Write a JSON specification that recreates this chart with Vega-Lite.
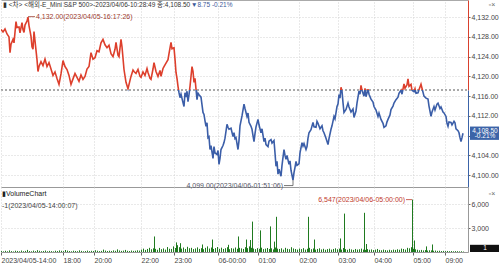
{
"$schema": "https://vega.github.io/schema/vega-lite/v6.json",
"padding": 0,
"background": "white",
"spacing": 0,
"bounds": "flush",
"config": {
  "view": {"stroke": null},
  "font": "Liberation Sans, Noto Sans CJK KR",
  "axis": {"labelFont": "Liberation Sans", "labelFontSize": 7, "labelColor": "#444444", "gridColor": "#d2d2d2", "gridDash": [1, 2], "tickColor": "#666666", "tickSize": 2, "labelPadding": 1, "title": null}
},
"datasets": {
  "price": [
{"x":0,"p":4129.5},{"x":2,"p":4129.0},{"x":4,"p":4129.6},{"x":6,"p":4128.6},{"x":8,"p":4128.0},{"x":9,"p":4124.8},{"x":10,"p":4126.5},{"x":12,"p":4127.5},{"x":13,"p":4126.8},{"x":15,"p":4131.1},{"x":16,"p":4129.9},{"x":18,"p":4130.0},{"x":19,"p":4128.8},{"x":21,"p":4130.9},{"x":22,"p":4129.5},{"x":23,"p":4128.9},{"x":24,"p":4130.4},{"x":26,"p":4131.2},{"x":27,"p":4132.0},{"x":28,"p":4130.3},{"x":30,"p":4128.1},{"x":31,"p":4126.0},{"x":32,"p":4125.5},{"x":33,"p":4129.1},{"x":34,"p":4127.2},{"x":36,"p":4123.4},{"x":37,"p":4121.0},{"x":38,"p":4122.0},{"x":40,"p":4123.0},{"x":42,"p":4122.2},{"x":44,"p":4123.5},{"x":46,"p":4122.0},{"x":48,"p":4122.8},{"x":50,"p":4121.5},{"x":52,"p":4120.2},{"x":54,"p":4120.9},{"x":56,"p":4119.6},{"x":58,"p":4118.4},{"x":60,"p":4120.5},{"x":62,"p":4123.2},{"x":64,"p":4122.0},{"x":66,"p":4121.4},{"x":68,"p":4120.2},{"x":70,"p":4118.4},{"x":72,"p":4119.5},{"x":74,"p":4120.6},{"x":76,"p":4119.8},{"x":78,"p":4119.0},{"x":80,"p":4120.3},{"x":82,"p":4119.4},{"x":84,"p":4120.0},{"x":86,"p":4121.5},{"x":88,"p":4122.0},{"x":90,"p":4124.8},{"x":92,"p":4123.5},{"x":94,"p":4123.8},{"x":96,"p":4125.2},{"x":98,"p":4125.0},{"x":100,"p":4126.8},{"x":102,"p":4127.5},{"x":104,"p":4126.4},{"x":106,"p":4125.8},{"x":108,"p":4126.3},{"x":110,"p":4124.6},{"x":112,"p":4124.0},{"x":114,"p":4125.5},{"x":115,"p":4126.9},{"x":117,"p":4124.3},{"x":118,"p":4124.0},{"x":120,"p":4127.5},{"x":121,"p":4126.0},{"x":123,"p":4121.4},{"x":125,"p":4118.8},{"x":127,"p":4117.5},{"x":129,"p":4119.2},{"x":130,"p":4120.0},{"x":132,"p":4121.3},{"x":133,"p":4121.0},{"x":135,"p":4120.6},{"x":137,"p":4121.4},{"x":139,"p":4120.0},{"x":140,"p":4119.8},{"x":142,"p":4120.9},{"x":144,"p":4120.2},{"x":146,"p":4121.6},{"x":147,"p":4120.8},{"x":149,"p":4119.6},{"x":150,"p":4119.4},{"x":152,"p":4121.5},{"x":153,"p":4122.8},{"x":155,"p":4121.0},{"x":157,"p":4120.0},{"x":159,"p":4121.2},{"x":160,"p":4120.0},{"x":162,"p":4121.6},{"x":163,"p":4122.0},{"x":165,"p":4122.7},{"x":167,"p":4123.4},{"x":168,"p":4124.6},{"x":170,"p":4126.9},{"x":171,"p":4125.6},{"x":173,"p":4125.8},{"x":174,"p":4123.5},{"x":175,"p":4120.8},{"x":176,"p":4119.6},{"x":177,"p":4118.0},{"x":178,"p":4116.7},{"x":179,"p":4115.7},{"x":180,"p":4116.4},{"x":182,"p":4114.7},{"x":183,"p":4113.9},{"x":184,"p":4116.7},{"x":185,"p":4115.8},{"x":186,"p":4117.0},{"x":187,"p":4114.9},{"x":188,"p":4116.3},{"x":189,"p":4118.0},{"x":191,"p":4122.0},{"x":192,"p":4121.0},{"x":193,"p":4118.8},{"x":194,"p":4119.6},{"x":196,"p":4115.3},{"x":197,"p":4116.6},{"x":198,"p":4116.3},{"x":200,"p":4115.8},{"x":202,"p":4112.7},{"x":203,"p":4112.3},{"x":204,"p":4111.0},{"x":205,"p":4109.9},{"x":206,"p":4110.6},{"x":207,"p":4107.6},{"x":208,"p":4107.8},{"x":209,"p":4105.2},{"x":210,"p":4106.0},{"x":212,"p":4103.4},{"x":213,"p":4105.8},{"x":214,"p":4104.5},{"x":216,"p":4104.2},{"x":217,"p":4105.0},{"x":218,"p":4102.2},{"x":219,"p":4103.4},{"x":220,"p":4105.2},{"x":222,"p":4106.0},{"x":223,"p":4106.6},{"x":224,"p":4107.5},{"x":226,"p":4110.3},{"x":227,"p":4109.7},{"x":228,"p":4109.3},{"x":230,"p":4109.5},{"x":232,"p":4107.8},{"x":233,"p":4108.6},{"x":234,"p":4107.4},{"x":235,"p":4107.6},{"x":236,"p":4106.4},{"x":237,"p":4105.2},{"x":238,"p":4107.0},{"x":239,"p":4110.0},{"x":241,"p":4112.0},{"x":243,"p":4114.4},{"x":244,"p":4113.5},{"x":246,"p":4111.9},{"x":247,"p":4112.6},{"x":248,"p":4110.7},{"x":250,"p":4109.9},{"x":251,"p":4109.3},{"x":252,"p":4108.0},{"x":253,"p":4106.8},{"x":254,"p":4108.4},{"x":255,"p":4109.8},{"x":257,"p":4111.3},{"x":258,"p":4110.2},{"x":260,"p":4108.6},{"x":261,"p":4109.4},{"x":263,"p":4106.8},{"x":264,"p":4107.5},{"x":265,"p":4106.2},{"x":267,"p":4105.8},{"x":268,"p":4106.9},{"x":270,"p":4107.2},{"x":271,"p":4106.5},{"x":273,"p":4107.0},{"x":274,"p":4104.5},{"x":275,"p":4101.8},{"x":276,"p":4102.8},{"x":277,"p":4100.2},{"x":278,"p":4101.2},{"x":280,"p":4099.8},{"x":281,"p":4102.0},{"x":283,"p":4105.2},{"x":284,"p":4104.0},{"x":285,"p":4103.2},{"x":286,"p":4104.0},{"x":288,"p":4102.2},{"x":289,"p":4102.9},{"x":290,"p":4101.0},{"x":292,"p":4099.0},{"x":293,"p":4100.5},{"x":294,"p":4101.6},{"x":295,"p":4102.8},{"x":296,"p":4102.0},{"x":298,"p":4102.3},{"x":299,"p":4104.5},{"x":301,"p":4106.6},{"x":302,"p":4105.9},{"x":303,"p":4106.4},{"x":305,"p":4105.2},{"x":306,"p":4105.8},{"x":307,"p":4107.5},{"x":308,"p":4108.6},{"x":310,"p":4109.2},{"x":312,"p":4110.7},{"x":313,"p":4109.8},{"x":315,"p":4109.7},{"x":316,"p":4110.9},{"x":317,"p":4110.5},{"x":319,"p":4109.4},{"x":321,"p":4110.0},{"x":322,"p":4109.0},{"x":323,"p":4108.6},{"x":325,"p":4107.5},{"x":327,"p":4106.2},{"x":328,"p":4107.4},{"x":330,"p":4109.3},{"x":331,"p":4110.0},{"x":333,"p":4111.9},{"x":334,"p":4111.4},{"x":336,"p":4113.9},{"x":337,"p":4114.4},{"x":338,"p":4116.3},{"x":339,"p":4115.6},{"x":340,"p":4117.8},{"x":341,"p":4117.0},{"x":342,"p":4114.7},{"x":343,"p":4112.7},{"x":345,"p":4113.3},{"x":347,"p":4114.6},{"x":348,"p":4113.8},{"x":350,"p":4112.8},{"x":352,"p":4113.4},{"x":353,"p":4111.7},{"x":355,"p":4113.0},{"x":356,"p":4114.6},{"x":358,"p":4117.0},{"x":359,"p":4116.4},{"x":360,"p":4118.2},{"x":361,"p":4117.2},{"x":363,"p":4116.0},{"x":364,"p":4117.6},{"x":365,"p":4115.9},{"x":367,"p":4117.4},{"x":368,"p":4116.4},{"x":370,"p":4115.4},{"x":372,"p":4114.8},{"x":373,"p":4113.9},{"x":375,"p":4113.2},{"x":377,"p":4111.9},{"x":378,"p":4112.6},{"x":380,"p":4111.3},{"x":382,"p":4110.5},{"x":383,"p":4109.7},{"x":385,"p":4110.0},{"x":386,"p":4110.8},{"x":387,"p":4111.3},{"x":389,"p":4112.2},{"x":390,"p":4113.3},{"x":392,"p":4114.0},{"x":393,"p":4114.6},{"x":395,"p":4115.3},{"x":397,"p":4115.8},{"x":398,"p":4116.6},{"x":400,"p":4117.2},{"x":401,"p":4116.4},{"x":403,"p":4118.5},{"x":404,"p":4117.6},{"x":406,"p":4118.3},{"x":407,"p":4119.5},{"x":408,"p":4118.0},{"x":410,"p":4118.4},{"x":411,"p":4117.2},{"x":413,"p":4116.9},{"x":414,"p":4117.5},{"x":415,"p":4116.6},{"x":417,"p":4116.7},{"x":418,"p":4117.3},{"x":420,"p":4118.4},{"x":421,"p":4117.6},{"x":423,"p":4116.0},{"x":425,"p":4115.6},{"x":427,"p":4115.4},{"x":428,"p":4114.0},{"x":430,"p":4111.9},{"x":431,"p":4112.8},{"x":433,"p":4113.9},{"x":434,"p":4113.2},{"x":436,"p":4114.4},{"x":437,"p":4114.6},{"x":439,"p":4113.5},{"x":440,"p":4113.8},{"x":442,"p":4112.8},{"x":443,"p":4112.6},{"x":445,"p":4111.9},{"x":446,"p":4110.5},{"x":447,"p":4109.9},{"x":448,"p":4110.8},{"x":450,"p":4110.7},{"x":451,"p":4110.2},{"x":453,"p":4110.9},{"x":454,"p":4110.6},{"x":455,"p":4109.4},{"x":457,"p":4109.0},{"x":458,"p":4108.6},{"x":459,"p":4107.6},{"x":460,"p":4106.8},{"x":461,"p":4107.6},{"x":462,"p":4108.5}
  ],
  "vol": [
{"x":0,"v":120},{"x":2,"v":80},{"x":4,"v":150},{"x":6,"v":90},{"x":8,"v":200},{"x":10,"v":110},{"x":12,"v":70},{"x":14,"v":160},{"x":16,"v":130},{"x":18,"v":90},{"x":20,"v":180},{"x":22,"v":100},{"x":24,"v":140},{"x":26,"v":260},{"x":28,"v":120},{"x":30,"v":90},{"x":32,"v":170},{"x":34,"v":110},{"x":36,"v":230},{"x":38,"v":150},{"x":40,"v":100},{"x":42,"v":130},{"x":44,"v":180},{"x":46,"v":90},{"x":48,"v":140},{"x":50,"v":110},{"x":52,"v":80},{"x":54,"v":160},{"x":56,"v":120},{"x":58,"v":200},{"x":60,"v":150},{"x":62,"v":110},{"x":64,"v":250},{"x":66,"v":170},{"x":68,"v":120},{"x":70,"v":90},{"x":72,"v":160},{"x":74,"v":130},{"x":76,"v":100},{"x":78,"v":210},{"x":80,"v":140},{"x":82,"v":90},{"x":84,"v":120},{"x":86,"v":170},{"x":88,"v":110},{"x":90,"v":150},{"x":92,"v":130},{"x":94,"v":220},{"x":96,"v":160},{"x":98,"v":110},{"x":100,"v":140},{"x":102,"v":300},{"x":104,"v":180},{"x":106,"v":120},{"x":108,"v":160},{"x":110,"v":130},{"x":112,"v":200},{"x":114,"v":150},{"x":116,"v":330},{"x":118,"v":190},{"x":120,"v":140},{"x":122,"v":170},{"x":124,"v":260},{"x":126,"v":150},{"x":128,"v":120},{"x":130,"v":180},{"x":132,"v":140},{"x":134,"v":160},{"x":136,"v":210},{"x":138,"v":170},
{"x":140,"v":300},{"x":142,"v":420},{"x":144,"v":260},{"x":146,"v":380},{"x":148,"v":520},{"x":150,"v":340},{"x":152,"v":460},{"x":154,"v":390},{"x":156,"v":280},{"x":158,"v":510},{"x":160,"v":350},{"x":162,"v":440},{"x":164,"v":300},{"x":166,"v":620},{"x":168,"v":410},{"x":170,"v":380},{"x":172,"v":700},{"x":174,"v":500},{"x":176,"v":850},{"x":178,"v":600},{"x":180,"v":420},{"x":182,"v":560},{"x":184,"v":380},{"x":186,"v":650},{"x":188,"v":470},{"x":190,"v":520},{"x":192,"v":360},{"x":194,"v":440},{"x":196,"v":580},{"x":198,"v":390},{"x":200,"v":480},{"x":202,"v":350},{"x":204,"v":520},{"x":206,"v":700},{"x":208,"v":430},{"x":210,"v":560},{"x":212,"v":380},{"x":214,"v":490},{"x":216,"v":620},{"x":218,"v":400},{"x":220,"v":540},{"x":222,"v":380},{"x":224,"v":470},{"x":226,"v":600},{"x":228,"v":350},{"x":230,"v":480},{"x":232,"v":420},{"x":234,"v":560},{"x":236,"v":400},{"x":238,"v":520},{"x":240,"v":450},{"x":242,"v":380},{"x":244,"v":600},{"x":246,"v":480},{"x":248,"v":700},{"x":250,"v":520},{"x":252,"v":430},{"x":254,"v":360},{"x":256,"v":480},{"x":258,"v":400},{"x":260,"v":540},{"x":262,"v":360},{"x":264,"v":420},{"x":266,"v":500},{"x":268,"v":380},{"x":270,"v":460},{"x":272,"v":330},{"x":274,"v":560},{"x":276,"v":420},{"x":278,"v":380},{"x":280,"v":460},{"x":282,"v":300},{"x":284,"v":520},{"x":286,"v":400},{"x":288,"v":350},{"x":290,"v":600},{"x":292,"v":440},{"x":294,"v":380},{"x":296,"v":300},{"x":298,"v":420},{"x":300,"v":360},{"x":302,"v":480},{"x":304,"v":300},{"x":306,"v":400},{"x":308,"v":520},{"x":310,"v":350},{"x":312,"v":440},{"x":314,"v":300},{"x":316,"v":380},{"x":318,"v":460},{"x":320,"v":320},{"x":322,"v":400},{"x":324,"v":280},{"x":326,"v":360},{"x":328,"v":420},{"x":330,"v":300},{"x":332,"v":380},{"x":334,"v":460},{"x":336,"v":340},{"x":338,"v":420},{"x":340,"v":300},{"x":342,"v":500},{"x":344,"v":360},{"x":346,"v":280},{"x":348,"v":400},{"x":350,"v":320},{"x":352,"v":260},{"x":354,"v":380},{"x":356,"v":300},{"x":358,"v":340},{"x":360,"v":420},{"x":362,"v":300},{"x":364,"v":260},{"x":366,"v":360},{"x":368,"v":280},{"x":370,"v":320},{"x":372,"v":240},{"x":374,"v":300},{"x":376,"v":380},{"x":378,"v":260},{"x":380,"v":220},{"x":382,"v":300},{"x":384,"v":240},{"x":386,"v":200},{"x":388,"v":280},{"x":390,"v":220},{"x":392,"v":300},{"x":394,"v":260},{"x":396,"v":340},{"x":398,"v":280},{"x":400,"v":420},{"x":402,"v":380},{"x":404,"v":300},{"x":406,"v":520},{"x":408,"v":460},{"x":410,"v":600},{"x":412,"v":400},{"x":414,"v":340},{"x":416,"v":280},{"x":418,"v":220},{"x":420,"v":260},{"x":422,"v":200},{"x":424,"v":240},{"x":426,"v":180},{"x":428,"v":220},{"x":430,"v":200},{"x":432,"v":160},{"x":434,"v":180},{"x":436,"v":140},{"x":438,"v":160},{"x":440,"v":120},{"x":442,"v":140},{"x":444,"v":110},{"x":446,"v":130},{"x":448,"v":100},{"x":450,"v":120},{"x":452,"v":90},{"x":454,"v":110},{"x":456,"v":100},{"x":458,"v":80},{"x":460,"v":90},{"x":462,"v":60},
{"x":153,"v":1940},{"x":175,"v":1200},{"x":179,"v":1100},{"x":201,"v":940},{"x":211,"v":1560},{"x":227,"v":900},{"x":237,"v":1940},{"x":245,"v":1560},{"x":249,"v":1500},{"x":251,"v":3800},{"x":259,"v":2700},{"x":269,"v":3200},{"x":273,"v":1300},{"x":275,"v":4400},{"x":307,"v":4400},{"x":313,"v":1560},{"x":339,"v":1690},{"x":343,"v":4800},{"x":363,"v":4900},{"x":365,"v":1000},{"x":411,"v":6547},{"x":413,"v":1440},{"x":425,"v":700},{"x":431,"v":940}
  ]
},
"vconcat": [
{
  "width": 467, "height": 90,
  "encoding": {
    "x": {"field": "x", "type": "quantitative", "scale": {"domain": [0, 467], "nice": false, "zero": false},
      "axis": {"orient": "top", "labels": false, "ticks": false, "domainColor": "#aaaaaa", "grid": true, "values": [0, 62, 93, 140, 173, 217, 257, 298, 337, 373, 412, 444]}},
    "y": {"field": "p", "type": "quantitative", "scale": {"domain": [4117.25, 4135.47], "nice": false, "zero": false},
      "axis": {"orient": "right", "values": [4120, 4124, 4128, 4132], "format": ",.2f", "domainColor": "#d9412e", "grid": true}}
  },
  "layer": [
    {"data": {"values": [{"x": 0, "x2": 467, "p": 4117.25}]}, "mark": {"type": "rule", "strokeDash": [2, 2], "color": "#555555", "strokeWidth": 1}, "encoding": {"x2": {"field": "x2"}}},
    {"data": {"name": "price"}, "mark": {"type": "line", "clip": true, "color": "#dd3f2c", "strokeWidth": 1.6}},
    {"data": {"values": [{"x": 27, "x2": 34, "p": 4132.1}]}, "mark": {"type": "rule", "color": "#9c3b2f", "strokeWidth": 0.8}, "encoding": {"x2": {"field": "x2"}}},
    {"data": {"values": [{"x": 35, "p": 4132.1, "t": "4,132.00(2023/04/05-16:17:26)"}]}, "mark": {"type": "text", "align": "left", "baseline": "middle", "fontSize": 7, "color": "#9c3b2f"}, "encoding": {"text": {"field": "t"}}},
    {"data": {"values": [{"x": 2, "p": 4134.4, "t": "▮ <차> <해외-E_Mini S&P 500>-2023/04/06-10:28:49 종:4,108.50"}]}, "mark": {"type": "text", "align": "left", "baseline": "middle", "fontSize": 6.5, "color": "#333333"}, "encoding": {"text": {"field": "t"}}},
    {"data": {"values": [{"x": 190, "p": 4134.4, "t": "▼8.75  -0.21%"}]}, "mark": {"type": "text", "align": "left", "baseline": "middle", "fontSize": 6.5, "color": "#3c5a9a"}, "encoding": {"text": {"field": "t"}}},
    {"data": {"values": [{"x": 491, "p": 4134.4, "t": "▫×"}]}, "mark": {"type": "text", "align": "center", "baseline": "middle", "fontSize": 7, "color": "#666666"}, "encoding": {"text": {"field": "t"}}}
  ]
},
{
  "width": 467, "height": 97,
  "encoding": {
    "x": {"field": "x", "type": "quantitative", "scale": {"domain": [0, 467], "nice": false, "zero": false},
      "axis": {"orient": "bottom", "labels": false, "ticks": false, "domainColor": "#999999", "grid": true, "values": [0, 62, 93, 140, 173, 217, 257, 298, 337, 373, 412, 444]}},
    "y": {"field": "p", "type": "quantitative", "scale": {"domain": [4097.61, 4117.25], "nice": false, "zero": false},
      "axis": {"orient": "right", "values": [4100, 4104, 4108, 4112, 4116], "labelExpr": "datum.value == 4108 ? '' : format(datum.value, ',.2f')", "domainColor": "#3c64a8", "grid": true}}
  },
  "layer": [
    {"data": {"name": "price"}, "mark": {"type": "line", "clip": true, "color": "#3b5ea8", "strokeWidth": 1.6}},
    {"data": {"values": [{"x": 283, "x2": 292, "p": 4097.9, "p2": 4097.9}, {"x": 292, "x2": 292, "p": 4097.9, "p2": 4099.0}]}, "mark": {"type": "rule", "color": "#555555", "strokeWidth": 0.8}, "encoding": {"x2": {"field": "x2"}, "y2": {"field": "p2"}}},
    {"data": {"values": [{"x": 282, "p": 4097.9, "t": "4,099.00(2023/04/06-01:51:06)"}]}, "mark": {"type": "text", "align": "right", "baseline": "middle", "fontSize": 7, "color": "#555566"}, "encoding": {"text": {"field": "t"}}},
    {"data": {"values": [{"x": 469, "x2": 498, "p": 4109.85, "p2": 4107.15}]}, "mark": {"type": "rect", "color": "#3c64a8"}, "encoding": {"x2": {"field": "x2"}, "y2": {"field": "p2"}}},
    {"data": {"values": [{"x": 484, "p": 4109.0, "t": "4,108.50"}, {"x": 484, "p": 4107.85, "t": "-0.21%"}]}, "mark": {"type": "text", "align": "center", "baseline": "middle", "fontSize": 6.5, "color": "white"}, "encoding": {"text": {"field": "t"}}}
  ]
},
{
  "width": 467, "height": 65,
  "encoding": {
    "x": {"field": "x", "type": "quantitative", "scale": {"domain": [0, 467], "nice": false, "zero": false},
      "axis": {"orient": "bottom", "labels": true, "ticks": true, "tickSize": 3, "labelAlign": "left", "labelPadding": 1, "labelOverlap": false, "labelFlush": false, "domainColor": "#999999", "grid": true, "values": [0, 62, 93, 140, 173, 217, 257, 298, 337, 373, 412, 444],
        "labelExpr": "datum.value==0?'2023/04/05-14:00':datum.value==62?'18:00':datum.value==93?'20:00':datum.value==140?'22:00':datum.value==173?'23:00':datum.value==217?'06-00:00':datum.value==257?'01:00':datum.value==298?'02:00':datum.value==337?'03:00':datum.value==373?'04:00':datum.value==412?'05:00':datum.value==444?'09:00':''"}},
    "y": {"field": "v", "type": "quantitative", "scale": {"domain": [0, 8125], "nice": false, "zero": true},
      "axis": {"orient": "right", "values": [3000, 6000], "format": ",d", "domainColor": "#999999", "grid": true}}
  },
  "layer": [
    {"data": {"name": "vol"}, "mark": {"type": "rule", "color": "#1f7a1f", "strokeWidth": 1, "xOffset": 0.5}, "encoding": {"y2": {"datum": 0}}},
    {"data": {"values": [{"x": 405, "x2": 411, "v": 6547}]}, "mark": {"type": "rule", "color": "#c0392b", "strokeWidth": 0.8}, "encoding": {"x2": {"field": "x2"}}},
    {"data": {"values": [{"x": 404, "v": 6547, "t": "6,547(2023/04/06-05:00:00)"}]}, "mark": {"type": "text", "align": "right", "baseline": "middle", "fontSize": 7, "color": "#c0392b"}, "encoding": {"text": {"field": "t"}}},
    {"data": {"values": [{"x": 1, "v": 5750, "t": "-1(2023/04/05-14:00:07)"}]}, "mark": {"type": "text", "align": "left", "baseline": "middle", "fontSize": 7, "color": "#444444"}, "encoding": {"text": {"field": "t"}}},
    {"data": {"values": [{"x": 1, "v": 7250, "t": "▮VolumeChart"}]}, "mark": {"type": "text", "align": "left", "baseline": "middle", "fontSize": 7, "color": "#222222"}, "encoding": {"text": {"field": "t"}}},
    {"data": {"values": [{"x": 491, "v": 7250, "t": "▫×"}]}, "mark": {"type": "text", "align": "center", "baseline": "middle", "fontSize": 7, "color": "#666666"}, "encoding": {"text": {"field": "t"}}},
    {"data": {"values": [{"x": 469, "x2": 498, "v": 0, "v2": 900}]}, "mark": {"type": "rect", "color": "#111111"}, "encoding": {"x2": {"field": "x2"}, "y2": {"field": "v2"}}},
    {"data": {"values": [{"x": 484, "v": 450, "t": "1"}]}, "mark": {"type": "text", "align": "center", "baseline": "middle", "fontSize": 6.5, "color": "white"}, "encoding": {"text": {"field": "t"}}}
  ]
}
]
}
